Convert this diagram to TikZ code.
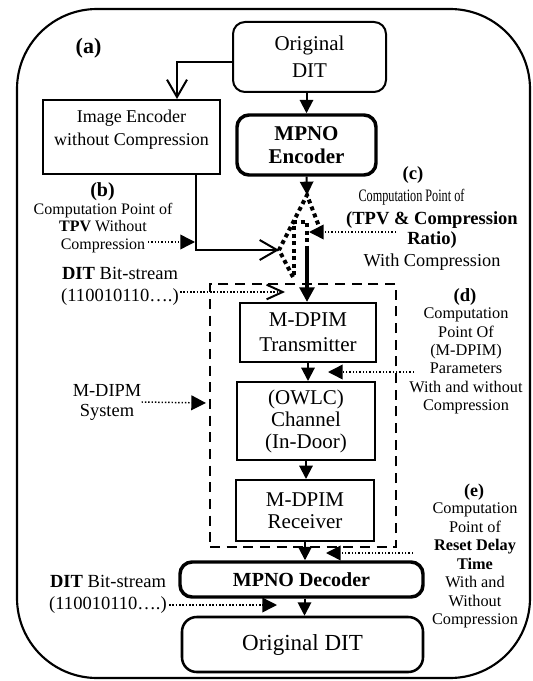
\documentclass[tikz,border=0pt]{standalone}
\usepackage{fontspec}
\setmainfont{Liberation Serif}
\usepackage{graphicx}
\usetikzlibrary{arrows.meta,calc}
\newcommand\myfs[2]{\fontsize{#1pt}{#2pt}\selectfont}
\begin{document}
\begin{tikzpicture}[x=0.75pt,y=-0.75pt,
  box/.style={draw,line width=1.5pt,inner sep=0pt,align=center},
  rbox/.style={box,rounded corners=9pt},
  tbox/.style={draw,line width=2.6pt,rounded corners=9pt,inner sep=0pt,align=center,font=\bfseries\myfs{15.75}{17.25}},
  lab/.style={inner sep=0pt,align=center},
  fa/.style={line width=1.5pt,-{Triangle[length=10pt,width=10pt]}},
  oa/.style={line width=1.5pt,-{Straight Barb[length=13pt,width=15pt]}},
  dotar/.style={line width=1.1pt,dash pattern=on 1.1pt off 1.4pt,-{Triangle[length=11pt,width=11pt]}},
  dotopen/.style={line width=1.1pt,dash pattern=on 1.1pt off 1.4pt,-{Straight Barb[length=12pt,width=11pt,line width=1.5pt]}},
  bigdot/.style={line width=3pt,dash pattern=on 3pt off 2.6pt},
  dashbox/.style={draw,line width=1.9pt,dash pattern=on 7.5pt off 5pt,inner sep=0pt}
]
\useasboundingbox (0,0) rectangle (532,681);
\draw[line width=1.6pt, rounded corners=60pt] (17,9) rectangle (530,678);

% boxes
\node[rbox, minimum width=114.75pt, minimum height=52.5pt, font=\myfs{15.75}{20.25}] (otop) at (309.5,57) {Original\\DIT};
\node[tbox, minimum width=104.25pt, minimum height=45pt] (menc) at (306.5,145) {MPNO\\Encoder};
\node[box, minimum width=132.75pt, minimum height=55.5pt] (ienc) at (131.5,137) {};
\node[lab, font=\myfs{13.5}{17.25}] (ienct) at (131.5,129.5) {Image Encoder\\without Compression};
\node[dashbox, minimum width=139.5pt, minimum height=197.25pt] (dbox) at (303,415.5) {};
\node[box, minimum width=102pt, minimum height=44.25pt, font=\myfs{15.75}{18.75}] (tx) at (308,332.5) {M-DPIM\\Transmitter};
\node[box, minimum width=103.5pt, minimum height=58.5pt, font=\myfs{15.75}{16.5}] (ch) at (306,421) {(OWLC)\\Channel\\(In-Door)};
\node[box, minimum width=103.5pt, minimum height=45.75pt, font=\myfs{15.75}{16.5}] (rx) at (305,510.5) {M-DPIM\\Receiver};
\node[tbox, minimum width=182.25pt, minimum height=26.25pt, font=\bfseries\myfs{15}{17}] (mdec) at (301.5,579.5) {MPNO Decoder};
\node[rbox, rounded corners=11pt, line width=1.9pt, minimum width=180.75pt, minimum height=41.25pt, font=\myfs{17.25}{20}] (obot) at (302.5,644.5) {Original DIT};

% labels
\node[lab, font=\bfseries\myfs{16.5}{18}] (la) at (88.5,48) {(a)};
\node[lab, font=\bfseries\myfs{15}{17}] (lb) at (102.5,192) {(b)};
\node[lab, font=\myfs{12}{13.1}] (tb) at (103,228) {Computation Point of\\\textbf{TPV} Without\\Compression};
\node[lab, font=\bfseries\myfs{14}{16}] (lc) at (413,175) {(c)};
\node[lab, font=\myfs{13.1}{15}] (tc1) at (411.5,197) {\scalebox{0.7}[1]{Computation Point of}};
\node[lab, font=\bfseries\myfs{13.9}{15}] (tc2) at (432,230) {(TPV \& Compression\\Ratio)};
\node[lab, font=\myfs{13.7}{15}] (tc3) at (432,262) {With Compression};
\node[lab, font=\myfs{13.9}{16.5}] (bs1) at (120,286) {\textbf{DIT} Bit-stream\\(110010110….)};
\node[lab, font=\myfs{13.8}{15}] (sys) at (107,402) {M-DIPM\\System};
\node[lab, font=\bfseries\myfs{14}{16}] (ld) at (465,297) {(d)};
\node[lab, font=\myfs{12.2}{13.8}] (td) at (466,361) {Computation\\Point Of\\(M-DPIM)\\Parameters\\With and without\\Compression};
\node[lab, font=\bfseries\myfs{13.5}{16}] (le) at (474,492) {(e)};
\node[lab, font=\myfs{12.2}{13.85}] (te) at (475,565.5) {Computation\\Point of\\\textbf{Reset Delay}\\\textbf{Time}\\With and\\Without\\Compression};
\node[lab, font=\myfs{13.9}{16.5}] (bs2) at (108,594) {\textbf{DIT} Bit-stream\\(110010110….)};

% free ends
\coordinate (apex) at (307,195);
\coordinate (tl) at (279,250);
\coordinate (tb1) at (293,277);
\coordinate (tr) at (320,229);
\coordinate (ib1) at (294,275);
\coordinate (ib2) at (294,222);
\coordinate (ib3) at (307,222);
\coordinate (tstart) at (307,247);
\coordinate (cstart) at (396,232);
\coordinate (cpt) at (309,232);
\coordinate (bstart) at (148,242);
\coordinate (bpt) at (195,242);
\coordinate (bitpt) at (285,292);
\coordinate (syspt) at (206,403);
\coordinate (dstart) at (414,372);
\coordinate (dpt) at (328,372);
\coordinate (estart) at (413,553);
\coordinate (ept) at (326,553);
\coordinate (b2pt) at (277,605);
\coordinate (ms) at ($(mdec.south)+(3,0)$);

% connectors
\draw[fa] (menc.north |- otop.south) -- (menc.north);
\draw[oa] ($(otop.west)+(0,5)$) -| ($(ienc.north)+(45.5,0)$);
\draw[oa] ($(ienc.south)+(64.5,0)$) |- (tl);
\draw[fa] (menc.south) -- (apex);
\draw[bigdot] (tb1) -- (tl) -- (apex) -- (tr);
\draw[bigdot] (ib1) -- (ib2) -- (ib3) -- (tstart);
\draw[line width=3pt, -{Triangle[length=11pt,width=11pt]}] (tstart) -- (tstart |- tx.north);
\draw[dotar] (cstart) -- (cpt);
\draw[dotar] (bstart) -- (bpt);
\draw[dotopen] ($(bs1.east)+(1,6)$) -- (bitpt);
\draw[dotar] (sys.east) -- (syspt);
\draw[fa] (tx.south) -- (tx.south |- ch.north);
\draw[fa] (ch.south) -- (ch.south |- rx.north);
\draw[dotar] (dstart) -- (dpt);
\draw[fa] (rx.south) -- (rx.south |- mdec.north);
\draw[dotar] (estart) -- (ept);
\draw[fa] (ms) -- (ms |- obot.north);
\draw[dotar] ($(bs2.east)+(2,11)$) -- (b2pt);
\end{tikzpicture}
\end{document}
